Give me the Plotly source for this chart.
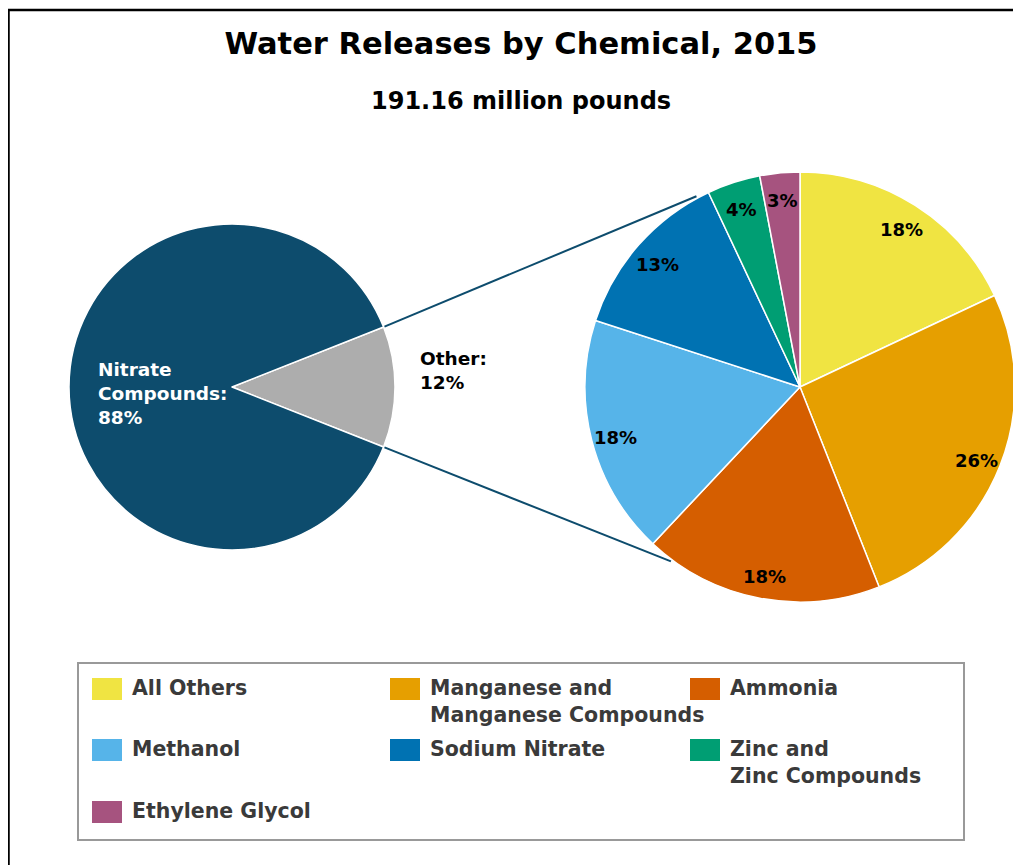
import math
import plotly.graph_objects as go

W, H = 1021, 865
OX, OY = 8, 8  # page body margin of the browser

# data
overviewLabels = ["Other", "Nitrate Compounds"]
overviewValues = [12, 88]
overviewColors = ["#adadad", "#0d4c6d"]

detailLabels = ["All Others", "Manganese and<br>Manganese Compounds", "Ammonia",
                "Methanol", "Sodium Nitrate", "Zinc and<br>Zinc Compounds", "Ethylene Glycol"]
detailValues = [18, 26, 18, 18, 13, 4, 3]
detailColors = ["#f0e442", "#e69f00", "#d55e00", "#56b4e9", "#0072b2", "#009e73", "#a6537f"]

titleText = "Water Releases by Chemical, 2015"
subtitleText = "191.16 million pounds"

FONT = "DejaVu Sans, Verdana, sans-serif"


def px(x):
    return (x - OX) / W


def py(y):
    return 1 - (y - OY) / H


# pie geometry in screen pixels
leftC, leftR = (232, 387), 163
rightC, rightR = (800, 387), 215

otherShare = overviewValues[0] / sum(overviewValues)
leftRotation = 90 - otherShare * 360 / 2

fig = go.Figure()

fig.add_trace(go.Pie(
    labels=overviewLabels, values=overviewValues, sort=False, direction="clockwise",
    rotation=leftRotation, textinfo="none", hoverinfo="label+percent",
    marker=dict(colors=overviewColors, line=dict(color="white", width=1.5)),
    domain=dict(x=[px(leftC[0] - leftR), px(leftC[0] + leftR)],
                y=[py(leftC[1] + leftR), py(leftC[1] - leftR)]),
    showlegend=False,
))

fig.add_trace(go.Pie(
    labels=detailLabels, values=detailValues, sort=False, direction="clockwise",
    rotation=0, textinfo="none", hoverinfo="label+percent",
    marker=dict(colors=detailColors, line=dict(color="white", width=1.5)),
    domain=dict(x=[px(rightC[0] - rightR), px(rightC[0] + rightR)],
                y=[py(rightC[1] + rightR), py(rightC[1] - rightR)]),
    showlegend=False,
))

shapes = []
annotations = []

# frame (left + top)
shapes.append(dict(type="line", xref="paper", yref="paper", x0=0.0005, x1=0.0005, y0=py(9), y1=0,
                   line=dict(color="black", width=2.5)))
shapes.append(dict(type="line", xref="paper", yref="paper", x0=0, x1=1, y0=py(10), y1=py(10),
                   line=dict(color="black", width=2.5)))

# connector lines from the "Other" slice to the breakdown pie
edgeAngles = [leftRotation, leftRotation + otherShare * 360]
targetAngles = [331.5, 216.5]
for a0, a1 in zip(edgeAngles, targetAngles):
    x0 = leftC[0] + (leftR + 1) * math.sin(math.radians(a0))
    y0 = leftC[1] - (leftR + 1) * math.cos(math.radians(a0))
    x1 = rightC[0] + (rightR + 2) * math.sin(math.radians(a1))
    y1 = rightC[1] - (rightR + 2) * math.cos(math.radians(a1))
    shapes.append(dict(type="line", xref="paper", yref="paper", x0=px(x0), y0=py(y0), x1=px(x1), y1=py(y1),
                       line=dict(color="#0d4c6d", width=2)))

# slice percentage labels on the breakdown pie
total = sum(detailValues)
cum = 0
for v in detailValues:
    mid = (cum + v / 2) / total * 360
    cum += v
    lx = rightC[0] + 0.885 * rightR * math.sin(math.radians(mid))
    ly = rightC[1] - 0.885 * rightR * math.cos(math.radians(mid)) + 3
    annotations.append(dict(x=px(lx), y=py(ly), xref="paper", yref="paper", showarrow=False,
                            xanchor="center", yanchor="middle",
                            text=f"<b>{round(v / total * 100)}%</b>",
                            font=dict(family=FONT, size=18, color="black")))

# overview labels
annotations.append(dict(x=px(96), y=py(393), xref="paper", yref="paper", showarrow=False,
                        xanchor="left", yanchor="middle", align="left",
                        text=f"<b>Nitrate<br>Compounds:<br>{overviewValues[1]}%</b>",
                        font=dict(family=FONT, size=18.5, color="white")))
annotations.append(dict(x=px(418), y=py(371), xref="paper", yref="paper", showarrow=False,
                        xanchor="left", yanchor="middle", align="left",
                        text=f"<b>{overviewLabels[0]}:<br>{overviewValues[0]}%</b>",
                        font=dict(family=FONT, size=18.5, color="black")))

# subtitle
annotations.append(dict(x=px(521), y=py(101), xref="paper", yref="paper", showarrow=False,
                        xanchor="center", yanchor="middle",
                        text=f"<b>{subtitleText}</b>", font=dict(family=FONT, size=24, color="black")))

# legend box and entries
shapes.append(dict(type="rect", xref="paper", yref="paper", x0=px(78), x1=px(964), y0=py(840), y1=py(663),
                   line=dict(color="#999999", width=2), fillcolor="rgba(0,0,0,0)"))
colX = [92, 390, 690]
rowY = [689, 750, 812]
for i, (lab, col) in enumerate(zip(detailLabels, detailColors)):
    cx = colX[i % 3]
    cy = rowY[i // 3]
    shapes.append(dict(type="rect", xref="paper", yref="paper", x0=px(cx), x1=px(cx + 30),
                       y0=py(cy + 11), y1=py(cy - 11), fillcolor=col, line=dict(width=0)))
    annotations.append(dict(x=px(cx + 38), y=py(cy - 15), xref="paper", yref="paper", showarrow=False,
                            xanchor="left", yanchor="top", align="left", text=f"<b>{lab}</b>",
                            font=dict(family=FONT, size=20.5, color="#3a3a3a")))

fig.update_layout(
    width=W,
    height=H,
    margin=dict(l=0, r=0, t=0, b=0),
    title=dict(text=f"<b>{titleText}</b>", x=px(521), xanchor="center",
               y=py(43), yanchor="middle", font=dict(family=FONT, size=30.5, color="black")),
    shapes=shapes,
    annotations=annotations,
    paper_bgcolor="white",
    plot_bgcolor="white",
)

fig.write_html("out.html")
